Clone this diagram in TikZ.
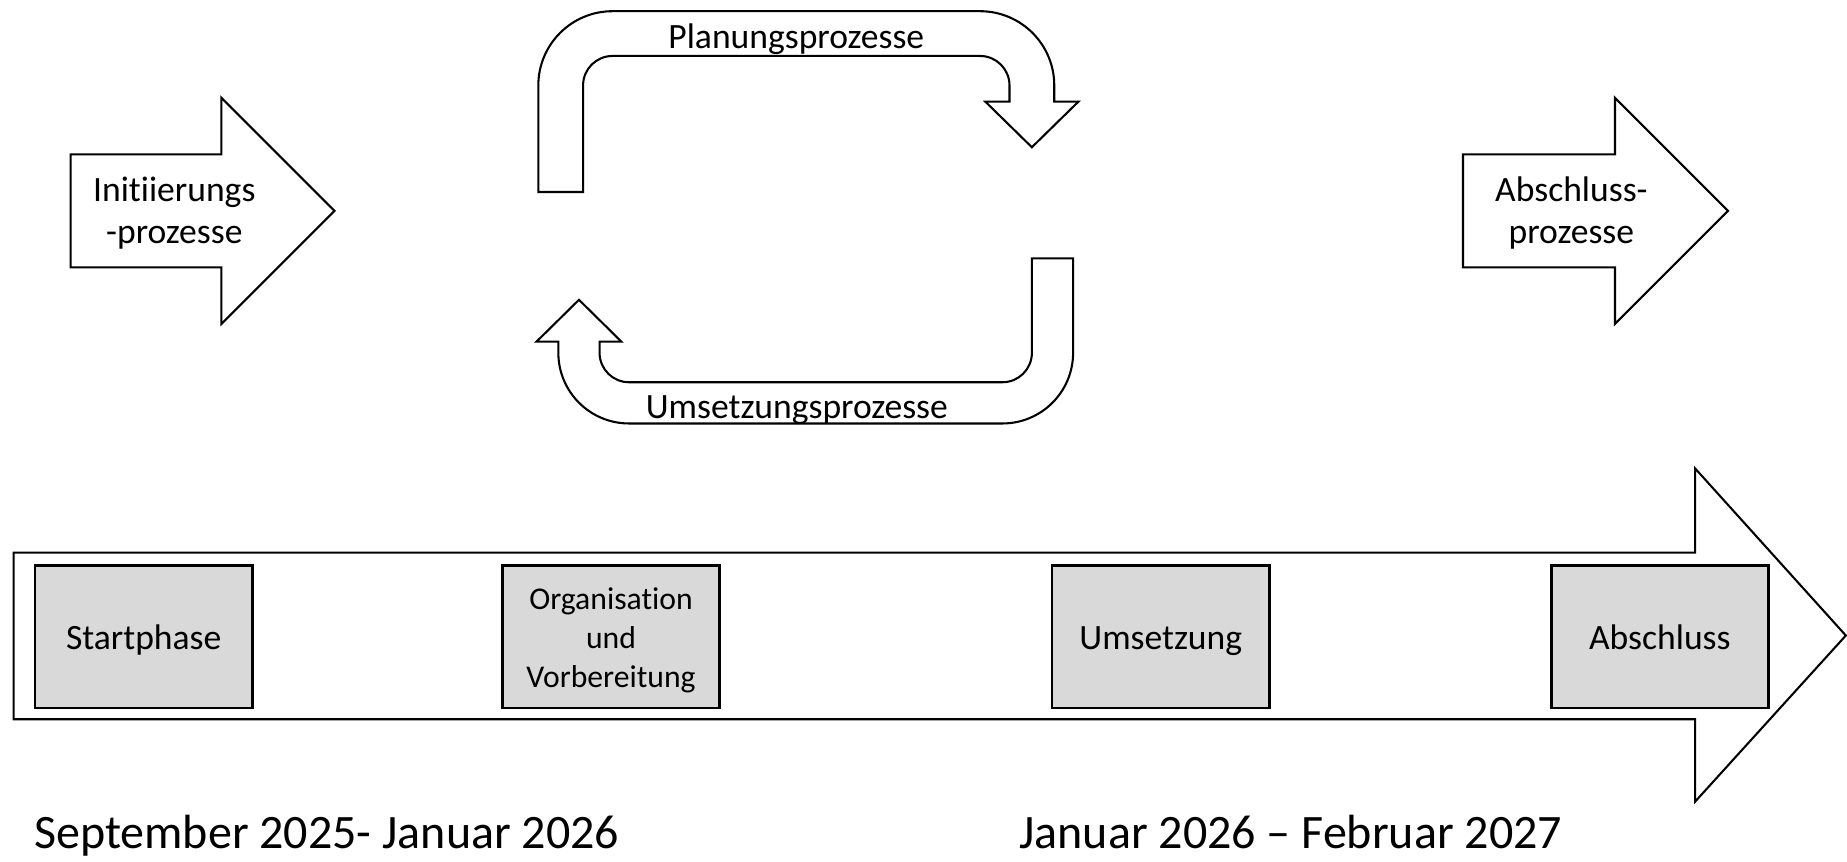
\documentclass[tikz,border=0pt]{standalone}
\usepackage{fontspec}
\setmainfont{Carlito}[Ligatures={NoCommon}]
\usetikzlibrary{positioning}
\definecolor{phasegray}{HTML}{D9D9D9}

\begin{document}
\begin{tikzpicture}[x=0.02cm, y=-0.02cm,
  outline/.style={draw, line width=1pt, fill=white},
  phase/.style={draw, fill=phasegray, line width=1.3pt, minimum width=3.69cm, minimum height=2.42cm, inner sep=0pt, align=center, font=\fontsize{17.2}{20.5}\selectfont},
  oneline/.style={text height=15.3pt, text depth=3.4pt},
  proc/.style={align=center, inner sep=0pt, font=\fontsize{17.2}{20.5}\selectfont},
  period/.style={anchor=base west, inner sep=0pt, font=\fontsize{23.2}{28}\selectfont}]
\useasboundingbox (0,0) rectangle (1568,731);

% process arrows
\draw[outline] (60,131) -- (188,131) -- (188,83) -- (284,179) -- (188,275) -- (188,227) -- (60,227) -- cycle;
\draw[outline] (1242,131) -- (1371,131) -- (1371,83) -- (1467,179) -- (1371,275) -- (1371,227) -- (1242,227) -- cycle;
\draw[outline] (457,163) -- (457,72.5) arc[start angle=180, end angle=270, radius=63] -- (832,9.5) arc[start angle=270, end angle=360, radius=63] -- (895,86.3) -- (915.5,86.3) -- (876,125) -- (836.5,86.3) -- (857,86.3) -- (857,72.5) arc[start angle=0, end angle=-90, radius=25] -- (520,47.5) arc[start angle=270, end angle=180, radius=25] -- (495,163) -- cycle;
\draw[outline] (876,219.3) -- (911,219.3) -- (911,299.5) arc[start angle=0, end angle=90, radius=60] -- (534,359.5) arc[start angle=90, end angle=180, radius=60] -- (474,290) -- (455.5,290) -- (491.5,254.5) -- (527.5,290) -- (509,290) -- (509,299.5) arc[start angle=180, end angle=90, radius=25] -- (851,324.5) arc[start angle=90, end angle=0, radius=25] -- (876,219.3) -- cycle;

\node[proc] (init) at (148,181) {Initiierungs\\-prozesse};
\node[proc] (closing) at (1334,181) {Abschluss-\\prozesse};
\node[proc, anchor=base] (plan) at (676,41) {Planungsprozesse};
\node[proc, anchor=base] (exec) at (676.5,355) {Umsetzungsprozesse};

% timeline
\draw[outline] (11.5,469.2) -- (1439,469.2) -- (1439,397.6) -- (1567,539.5) -- (1439,680.6) -- (1439,610.6) -- (11.5,610.6) -- cycle;

\node[phase, oneline] (start) at (122,540.5) {Startphase};
\node[phase, right=4.20cm of start, font=\fontsize{15.3}{18.8}\selectfont] (orga) {\rule{0pt}{13.9pt}Organisation\\und\\Vorbereitung};
\node[phase, oneline, right=5.60cm of orga] (impl) {Umsetzung};
\node[phase, oneline, right=4.74cm of impl] (fin) {Abschluss};

\node[period] (per1) at (28.6,720) {September 2025- Januar 2026};
\node[period] (per2) at (865,720) {Januar 2026 – Februar 2027};
\end{tikzpicture}
\end{document}
